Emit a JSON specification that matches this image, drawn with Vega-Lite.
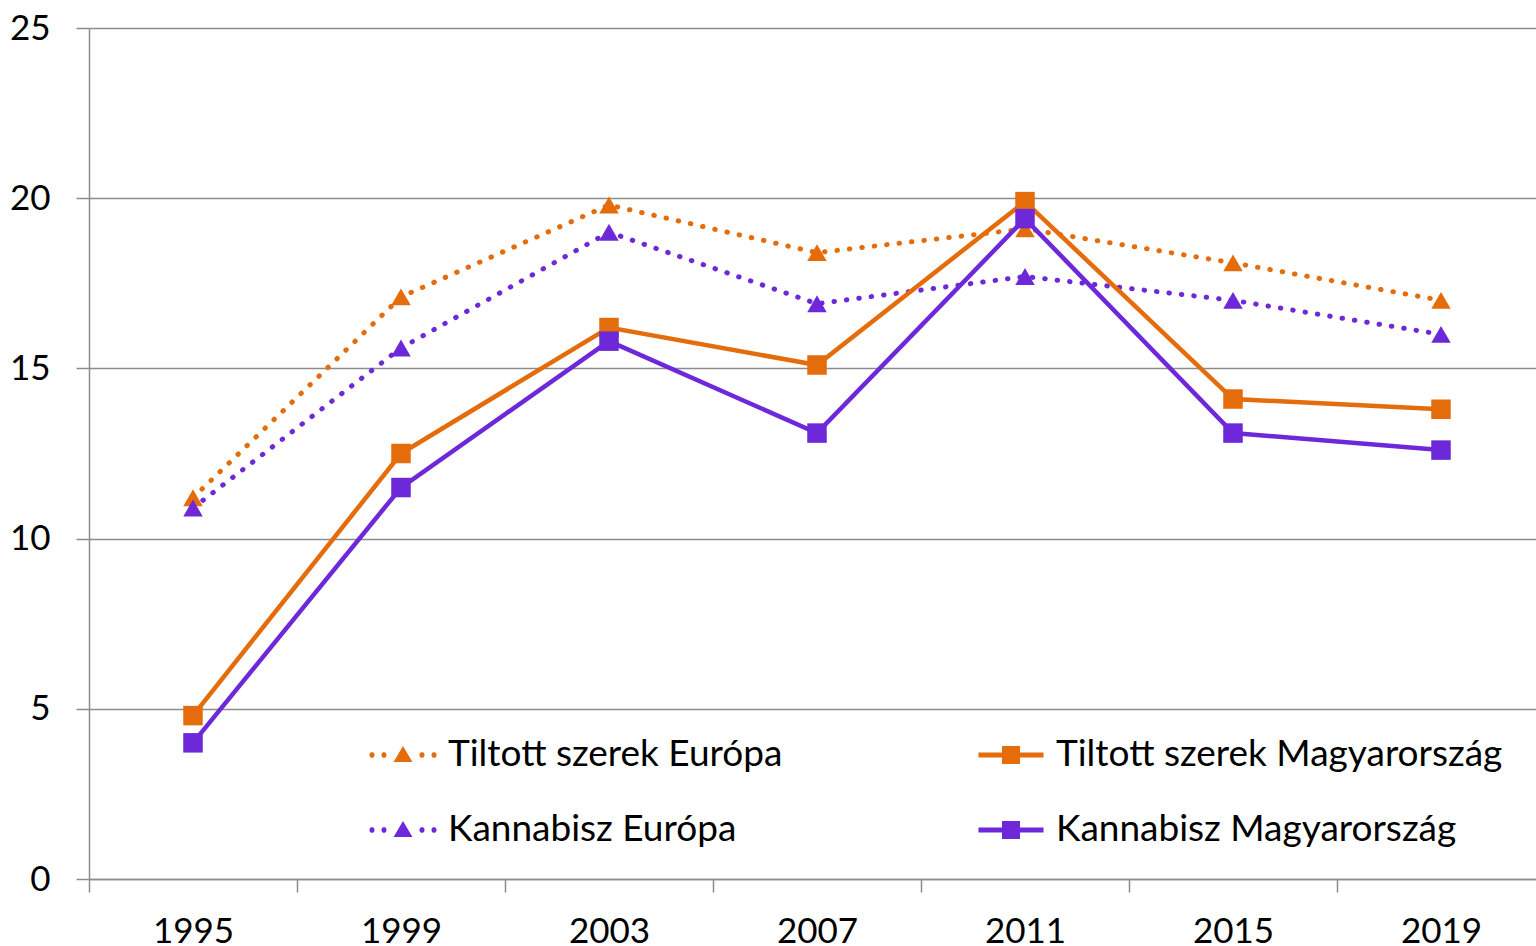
{
  "$schema": "https://vega.github.io/schema/vega-lite/v6.json",
  "width": 1447,
  "height": 851,
  "autosize": {"type": "none"},
  "padding": {"left": 89, "top": 28, "right": 0, "bottom": 67},
  "background": "white",
  "config": {
    "view": {"stroke": null},
    "font": "Lato",
    "axis": {"labelFont": "Lato", "labelColor": "#000000", "domainColor": "#8c8c8c", "tickColor": "#8c8c8c", "gridColor": "#8c8c8c", "domainWidth": 1.5, "tickWidth": 1.5, "gridWidth": 1.5}
  },
  "data": {
    "values": [
      {"year": "1995", "series": "Tiltott szerek Európa", "value": 11.2},
      {"year": "1999", "series": "Tiltott szerek Európa", "value": 17.1},
      {"year": "2003", "series": "Tiltott szerek Európa", "value": 19.8},
      {"year": "2007", "series": "Tiltott szerek Európa", "value": 18.4},
      {"year": "2011", "series": "Tiltott szerek Európa", "value": 19.1},
      {"year": "2015", "series": "Tiltott szerek Európa", "value": 18.1},
      {"year": "2019", "series": "Tiltott szerek Európa", "value": 17.0},
      {"year": "1995", "series": "Kannabisz Európa", "value": 10.9},
      {"year": "1999", "series": "Kannabisz Európa", "value": 15.6},
      {"year": "2003", "series": "Kannabisz Európa", "value": 19.0},
      {"year": "2007", "series": "Kannabisz Európa", "value": 16.9},
      {"year": "2011", "series": "Kannabisz Európa", "value": 17.7},
      {"year": "2015", "series": "Kannabisz Európa", "value": 17.0},
      {"year": "2019", "series": "Kannabisz Európa", "value": 16.0},
      {"year": "1995", "series": "Tiltott szerek Magyarország", "value": 4.8},
      {"year": "1999", "series": "Tiltott szerek Magyarország", "value": 12.5},
      {"year": "2003", "series": "Tiltott szerek Magyarország", "value": 16.2},
      {"year": "2007", "series": "Tiltott szerek Magyarország", "value": 15.1},
      {"year": "2011", "series": "Tiltott szerek Magyarország", "value": 19.9},
      {"year": "2015", "series": "Tiltott szerek Magyarország", "value": 14.1},
      {"year": "2019", "series": "Tiltott szerek Magyarország", "value": 13.8},
      {"year": "1995", "series": "Kannabisz Magyarország", "value": 4.0},
      {"year": "1999", "series": "Kannabisz Magyarország", "value": 11.5},
      {"year": "2003", "series": "Kannabisz Magyarország", "value": 15.8},
      {"year": "2007", "series": "Kannabisz Magyarország", "value": 13.1},
      {"year": "2011", "series": "Kannabisz Magyarország", "value": 19.4},
      {"year": "2015", "series": "Kannabisz Magyarország", "value": 13.1},
      {"year": "2019", "series": "Kannabisz Magyarország", "value": 12.6}
    ]
  },
  "encoding": {
    "x": {
      "field": "year", "type": "ordinal",
      "scale": {"paddingInner": 0, "paddingOuter": 0, "range": [0, 1456]},
      "axis": {"title": null, "labelAngle": 0, "labelFontSize": 35, "tickSize": 13, "tickBand": "extent", "labelPadding": 22, "labelBaseline": "top", "grid": false}
    },
    "y": {
      "field": "value", "type": "quantitative",
      "scale": {"domain": [0, 25], "nice": false},
      "axis": {"title": null, "values": [0, 5, 10, 15, 20, 25], "labelFontSize": 35, "tickSize": 13, "labelPadding": 26, "grid": true}
    },
    "color": {
      "field": "series", "type": "nominal",
      "scale": {
        "domain": ["Tiltott szerek Európa", "Tiltott szerek Magyarország", "Kannabisz Európa", "Kannabisz Magyarország"],
        "range": ["#E46C0A", "#E46C0A", "#6D28D9", "#6D28D9"]
      },
      "legend": {
        "title": null,
        "orient": "none",
        "legendX": 279,
        "legendY": 692,
        "direction": "horizontal",
        "columns": 2,
        "columnPadding": 193,
        "rowPadding": 22,
        "padding": 0,
        "symbolSize": 4900,
        "symbolStrokeWidth": 0,
        "labelFont": "Lato",
        "labelFontSize": 37,
        "labelColor": "#000000",
        "labelOffset": 10,
        "labelLimit": 0,
        "encode": {
          "symbols": {
            "update": {
              "shape": {"signal": "indexof(datum.value, 'Európa') >= 0 ? 'M-0.957,0A0.0714,0.0714,0,1,0,-0.815,0A0.0714,0.0714,0,1,0,-0.957,0ZM-0.614,0A0.0714,0.0714,0,1,0,-0.472,0A0.0714,0.0714,0,1,0,-0.614,0ZM0.472,0A0.0714,0.0714,0,1,0,0.614,0A0.0714,0.0714,0,1,0,0.472,0ZM0.815,0A0.0714,0.0714,0,1,0,0.957,0A0.0714,0.0714,0,1,0,0.815,0ZM0,-0.26L0.27,0.2L-0.27,0.2Z' : 'M-0.93,-0.071L0.93,-0.071L0.93,0.071L-0.93,0.071ZM-0.257,-0.257L0.257,-0.257L0.257,0.257L-0.257,0.257Z'"},
              "fill": {"scale": "color", "field": "value"},
              "stroke": {"value": "transparent"},
              "strokeWidth": {"value": 0},
              "opacity": {"value": 1}
            }
          }
        }
      }
    }
  },
  "layer": [
    {
      "transform": [{"filter": "indexof(datum.series, 'Európa') >= 0"}],
      "mark": {"type": "line", "strokeWidth": 5, "strokeDash": [0.5, 12], "strokeCap": "round"}
    },
    {
      "transform": [{"filter": "indexof(datum.series, 'Európa') >= 0"}],
      "mark": {"type": "point", "shape": "triangle-up", "filled": true, "size": 380, "opacity": 1}
    },
    {
      "transform": [{"filter": "indexof(datum.series, 'Magyarország') >= 0"}],
      "mark": {"type": "line", "strokeWidth": 4.5}
    },
    {
      "transform": [{"filter": "indexof(datum.series, 'Magyarország') >= 0"}],
      "mark": {"type": "point", "shape": "square", "filled": true, "size": 380, "opacity": 1}
    }
  ]
}
